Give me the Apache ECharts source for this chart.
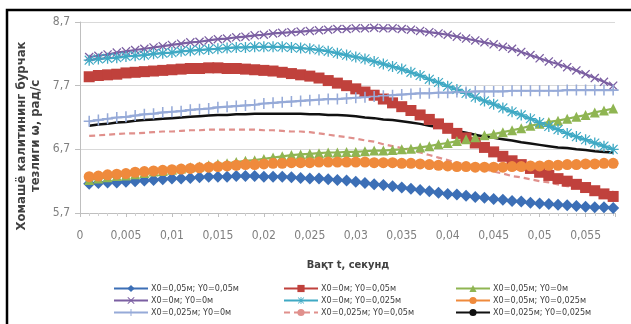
<!DOCTYPE html>
<html>
<head>
<meta charset="utf-8">
<script src="https://cdn.jsdelivr.net/npm/echarts@6/dist/echarts.min.js"></script>
<style>
  html, body { margin: 0; padding: 0; background: #fff; }
  #chart { width: 631px; height: 324px; }
</style>
</head>
<body>
<div id="chart"></div>
<script>
// time, s
const times = [
  0.001, 0.002, 0.003, 0.004, 0.005, 0.006, 0.007, 0.008, 0.009, 0.010,
  0.011, 0.012, 0.013, 0.014, 0.015, 0.016, 0.017, 0.018, 0.019, 0.020,
  0.021, 0.022, 0.023, 0.024, 0.025, 0.026, 0.027, 0.028, 0.029, 0.030,
  0.031, 0.032, 0.033, 0.034, 0.035, 0.036, 0.037, 0.038, 0.039, 0.040,
  0.041, 0.042, 0.043, 0.044, 0.045, 0.046, 0.047, 0.048, 0.049, 0.050,
  0.051, 0.052, 0.053, 0.054, 0.055, 0.056, 0.057, 0.058
];

// angular speed, rad/s
const w_x05_y05 = [
  6.16, 6.17, 6.18, 6.18, 6.19, 6.20, 6.21, 6.22, 6.23, 6.24,
  6.24, 6.25, 6.26, 6.27, 6.27, 6.27, 6.28, 6.28, 6.28, 6.27,
  6.27, 6.27, 6.26, 6.25, 6.24, 6.24, 6.23, 6.22, 6.21, 6.19,
  6.17, 6.15, 6.14, 6.12, 6.10, 6.08, 6.06, 6.04, 6.02, 6.00,
  5.99, 5.97, 5.95, 5.94, 5.92, 5.91, 5.89, 5.88, 5.86, 5.85,
  5.84, 5.83, 5.82, 5.81, 5.80, 5.79, 5.79, 5.78
];
const w_x0_y05 = [
  7.84, 7.86, 7.87, 7.88, 7.90, 7.91, 7.92, 7.93, 7.94, 7.95,
  7.96, 7.97, 7.97, 7.98, 7.98, 7.97, 7.97, 7.96, 7.95, 7.94,
  7.93, 7.91, 7.89, 7.87, 7.85, 7.82, 7.78, 7.74, 7.70, 7.65,
  7.60, 7.55, 7.49, 7.43, 7.37, 7.31, 7.24, 7.17, 7.10, 7.03,
  6.95, 6.88, 6.80, 6.73, 6.66, 6.59, 6.52, 6.46, 6.40, 6.34,
  6.29, 6.24, 6.20, 6.15, 6.10, 6.05, 6.00, 5.96
];
const w_x05_y0 = [
  6.22, 6.24, 6.26, 6.28, 6.29, 6.31, 6.33, 6.35, 6.36, 6.38,
  6.40, 6.42, 6.43, 6.45, 6.47, 6.48, 6.50, 6.52, 6.53, 6.55,
  6.57, 6.59, 6.61, 6.62, 6.63, 6.64, 6.65, 6.65, 6.66, 6.66,
  6.67, 6.68, 6.68, 6.69, 6.70, 6.71, 6.73, 6.75, 6.78, 6.80,
  6.83, 6.86, 6.89, 6.92, 6.94, 6.97, 7.00, 7.03, 7.07, 7.10,
  7.13, 7.15, 7.18, 7.21, 7.24, 7.28, 7.31, 7.34
];
const w_x0_y0 = [
  8.15, 8.17, 8.19, 8.22, 8.24, 8.26, 8.28, 8.30, 8.32, 8.34,
  8.36, 8.38, 8.39, 8.41, 8.43, 8.44, 8.46, 8.47, 8.49, 8.50,
  8.52, 8.53, 8.54, 8.55, 8.56, 8.57, 8.58, 8.59, 8.59, 8.60,
  8.60, 8.61, 8.60, 8.60, 8.59, 8.58, 8.56, 8.54, 8.52, 8.50,
  8.47, 8.44, 8.41, 8.38, 8.35, 8.31, 8.28, 8.23, 8.18, 8.13,
  8.08, 8.04, 7.99, 7.94, 7.88, 7.82, 7.76, 7.70
];
const w_x0_y025 = [
  8.10, 8.12, 8.13, 8.14, 8.16, 8.17, 8.18, 8.20, 8.21, 8.22,
  8.24, 8.25, 8.26, 8.27, 8.28, 8.29, 8.30, 8.30, 8.31, 8.31,
  8.31, 8.31, 8.30, 8.29, 8.28, 8.26, 8.24, 8.21, 8.18, 8.15,
  8.12, 8.08, 8.04, 8.00, 7.96, 7.91, 7.86, 7.80, 7.75, 7.69,
  7.64, 7.58, 7.52, 7.46, 7.41, 7.35, 7.29, 7.24, 7.18, 7.12,
  7.06, 7.01, 6.95, 6.90, 6.85, 6.80, 6.75, 6.70
];
const w_x05_y025 = [
  6.27, 6.28, 6.30, 6.31, 6.32, 6.34, 6.35, 6.36, 6.37, 6.38,
  6.39, 6.40, 6.41, 6.42, 6.43, 6.44, 6.45, 6.46, 6.46, 6.47,
  6.48, 6.48, 6.49, 6.49, 6.49, 6.50, 6.50, 6.50, 6.50, 6.50,
  6.50, 6.49, 6.49, 6.49, 6.48, 6.48, 6.47, 6.46, 6.45, 6.44,
  6.43, 6.43, 6.42, 6.42, 6.42, 6.42, 6.43, 6.43, 6.44, 6.44,
  6.45, 6.45, 6.46, 6.46, 6.47, 6.47, 6.48, 6.48
];
const w_x025_y0 = [
  7.14, 7.16, 7.18, 7.20, 7.21, 7.23, 7.25, 7.26, 7.28, 7.29,
  7.30, 7.32, 7.33, 7.34, 7.36, 7.37, 7.38, 7.39, 7.40, 7.42,
  7.43, 7.44, 7.45, 7.46, 7.47, 7.48, 7.49, 7.49, 7.50, 7.51,
  7.52, 7.53, 7.54, 7.55, 7.56, 7.57, 7.58, 7.58, 7.59, 7.59,
  7.60, 7.60, 7.61, 7.61, 7.61, 7.61, 7.62, 7.62, 7.62, 7.62,
  7.62, 7.62, 7.63, 7.63, 7.63, 7.63, 7.63, 7.63
];
const w_x025_y05 = [
  6.91, 6.92, 6.93, 6.94, 6.95, 6.95, 6.96, 6.97, 6.98, 6.98,
  6.99, 7.00, 7.00, 7.01, 7.01, 7.01, 7.01, 7.01, 7.01, 7.00,
  7.00, 6.99, 6.98, 6.98, 6.97, 6.95, 6.93, 6.91, 6.89, 6.87,
  6.84, 6.82, 6.78, 6.75, 6.72, 6.68, 6.65, 6.61, 6.57, 6.53,
  6.49, 6.46, 6.42, 6.39, 6.35, 6.32, 6.28, 6.26, 6.23, 6.20,
  6.18, 6.15, 6.12, 6.10, 6.08, 6.07, 6.05, 6.04
];
const w_x025_y025 = [
  7.07, 7.09, 7.10, 7.12, 7.13, 7.15, 7.16, 7.17, 7.18, 7.19,
  7.20, 7.21, 7.22, 7.23, 7.24, 7.24, 7.25, 7.25, 7.26, 7.26,
  7.26, 7.26, 7.26, 7.26, 7.25, 7.25, 7.24, 7.24, 7.23, 7.22,
  7.20, 7.19, 7.17, 7.16, 7.14, 7.12, 7.10, 7.07, 7.05, 7.02,
  6.99, 6.96, 6.93, 6.90, 6.88, 6.86, 6.84, 6.81, 6.79, 6.77,
  6.75, 6.73, 6.72, 6.70, 6.69, 6.67, 6.66, 6.65
];

const seriesNames = [
  'X0=0,05м; Y0=0,05м', 'X0=0м; Y0=0,05м', 'X0=0,05м; Y0=0м',
  'X0=0м; Y0=0м', 'X0=0м; Y0=0,025м', 'X0=0,05м; Y0=0,025м',
  'X0=0,025м; Y0=0м', 'X0=0,025м; Y0=0,05м', 'X0=0,025м; Y0=0,025м'
];

const FONT = '"Liberation Sans Narrow", "DejaVu Sans Condensed", "Liberation Sans", sans-serif';

// marker shapes
const X_MARK = 'path://M0,1L1,0L5,4L9,0L10,1L6,5L10,9L9,10L5,6L1,10L0,9L4,5Z';
const PLUS_MARK = 'path://M4.3,0H5.7V4.3H10V5.7H5.7V10H4.3V5.7H0V4.3H4.3Z';
const STAR_MARK = 'path://M4.4,0H5.6V3.6L8.7,0.6L9.4,1.3L6.4,4.4H10V5.6H6.4L9.4,8.7L8.7,9.4L5.6,6.4V10H4.4V6.4L1.3,9.4L0.6,8.7L3.6,5.6H0V4.4H3.6L0.6,1.3L1.3,0.6L4.4,3.6Z';

const pairs = (ys) => times.map((t, i) => [t, ys[i]]);

const lineSeries = (name, ys, color, symbol, size, extra) => Object.assign({
  name: name,
  type: 'line',
  data: pairs(ys),
  symbol: symbol,
  symbolSize: size,
  showSymbol: symbol !== 'none',
  itemStyle: { color: color },
  lineStyle: { color: color, width: 2.2 },
  emphasis: { disabled: true },
  animation: false
}, extra || {});

const chart = echarts.init(document.getElementById('chart'));

const fmtNum = (v, d) => {
  const s = Number(v.toFixed(d)).toString();
  return s.replace('.', ',');
};

const legendBase = {
  orient: 'vertical',
  top: 284,
  padding: 0,
  itemWidth: 34,
  itemHeight: 9,
  itemGap: 3,
  textStyle: { fontFamily: FONT, fontSize: 9, color: '#404040', padding: [0, 0, 0, -2] }
};

const option = {
  backgroundColor: '#ffffff',
  textStyle: { fontFamily: FONT },
  grid: { left: 80, right: 16, top: 22, bottom: 111 },
  legend: [
    Object.assign({ left: 113, data: [seriesNames[0], seriesNames[3], seriesNames[6]] }, legendBase),
    Object.assign({ left: 283, data: [seriesNames[1], seriesNames[4], seriesNames[7]] }, legendBase),
    Object.assign({ left: 455, data: [seriesNames[2], seriesNames[5], seriesNames[8]] }, legendBase)
  ],
  xAxis: {
    type: 'value',
    min: 0,
    max: 0.0582,
    interval: 0.005,
    axisLine: { onZero: false, lineStyle: { color: '#bfbfbf' } },
    axisTick: { show: true, length: 4, lineStyle: { color: '#bfbfbf' } },
    minorTick: { show: true, splitNumber: 5, length: 3, lineStyle: { color: '#cfcfcf' } },
    splitLine: { show: false },
    axisLabel: {
      color: '#7f7f7f',
      fontFamily: FONT,
      fontSize: 12,
      margin: 17,
      showMaxLabel: false,
      formatter: (v) => fmtNum(v, 3)
    }
  },
  yAxis: {
    type: 'value',
    min: 5.7,
    max: 8.7,
    interval: 1,
    axisLine: { show: true, lineStyle: { color: '#bfbfbf' } },
    axisTick: { show: true, length: 5, lineStyle: { color: '#bfbfbf' } },
    splitLine: { lineStyle: { color: '#d9d9d9', width: 1 } },
    axisLabel: {
      color: '#7f7f7f',
      fontFamily: FONT,
      fontSize: 12,
      margin: 10,
      formatter: (v) => fmtNum(v, 1)
    }
  },
  series: [
    lineSeries(seriesNames[0], w_x05_y05, '#3c6fb6', 'diamond', 12),
    lineSeries(seriesNames[1], w_x0_y05, '#c0413c', 'rect', 11),
    lineSeries(seriesNames[2], w_x05_y0, '#8fb552', 'triangle', 10),
    lineSeries(seriesNames[3], w_x0_y0, '#7b5fa2', X_MARK, 9),
    lineSeries(seriesNames[4], w_x0_y025, '#3fa9c4', STAR_MARK, 11),
    lineSeries(seriesNames[5], w_x05_y025, '#ef8a3c', 'circle', 11),
    lineSeries(seriesNames[6], w_x025_y0, '#96aad8', PLUS_MARK, 11),
    lineSeries(seriesNames[7], w_x025_y05, '#e0908c', 'none', 0, {
      lineStyle: { color: '#e0908c', width: 2.2, type: [6, 4] }
    }),
    lineSeries(seriesNames[8], w_x025_y025, '#111111', 'none', 0, {
      lineStyle: { color: '#111111', width: 2.5 }
    })
  ],
  graphic: [
    {
      type: 'rect',
      shape: { x: 7, y: 10, width: 640, height: 330 },
      style: { fill: 'none', stroke: '#000', lineWidth: 2.5 },
      silent: true
    },
    {
      type: 'text',
      x: 29,
      y: 136,
      rotation: Math.PI / 2,
      style: {
        text: 'Хомашё калитининг бурчак\nтезлиги ω, рад/с',
        fontFamily: FONT,
        fontSize: 13,
        fontWeight: 'bold',
        fill: '#404040',
        align: 'center',
        verticalAlign: 'middle',
        lineHeight: 14
      }
    },
    {
      type: 'text',
      x: 348,
      y: 265,
      style: {
        text: 'Вақт t, секунд',
        fontFamily: FONT,
        fontSize: 11,
        fontWeight: 'bold',
        fill: '#404040',
        align: 'center',
        verticalAlign: 'middle'
      }
    }
  ]
};

chart.setOption(option);
</script>
</body>
</html>
